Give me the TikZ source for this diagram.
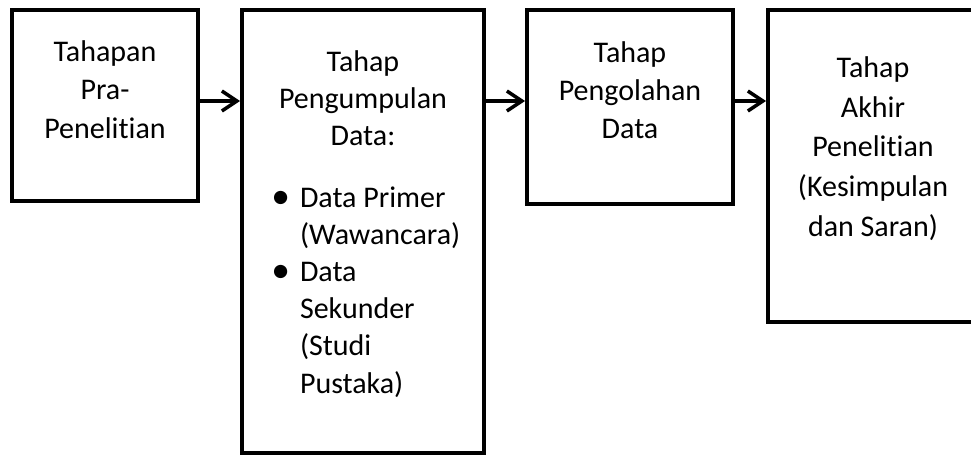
\documentclass[tikz,border=0pt]{standalone}
\usepackage{fontspec}
\setmainfont{Carlito}[Ligatures=NoCommon]
\usetikzlibrary{arrows.meta}
\tikzset{
  box/.style={draw, line width=4pt, inner sep=0pt},
  txt/.style={inner sep=0pt, anchor=base},
  conn/.style={line width=3.5pt, -{Straight Barb[length=15pt,width=20pt]}},
}
\newcommand{\bul}{\leavevmode\llap{\raisebox{-1pt}{\scalebox{1.25}{\textbullet}}\hspace{10pt}}}
\begin{document}
\begin{tikzpicture}[x=1pt, y=-1pt]
\useasboundingbox (0,0) rectangle (971,455);
% boxes
\node[box, minimum width=186pt, minimum height=191pt] (b1) at (105,105.5) {};
\node[box, minimum width=242pt, minimum height=443pt] (b2) at (363,231.5) {};
\node[box, minimum width=206pt, minimum height=194pt] (b3) at (630,107) {};
\node[box, minimum width=210pt, minimum height=312pt] (b4) at (873,166) {};
% texts
\node[txt, font=\fontsize{30}{38.3}\selectfont] (t1) at (105,61.5)
  {\parbox[t]{180pt}{\centering Tahapan\\Pra-\\Penelitian}};
\node[txt, font=\fontsize{30}{37.2}\selectfont] (t2) at (363,71)
  {\parbox[t]{230pt}{\centering Tahap\\Pengumpulan\\Data:}};
\node[txt, font=\fontsize{30}{37.2}\selectfont] (t2l) at (390,207)
  {\parbox[t]{180pt}{\raggedright\bul Data Primer\\(Wawancara)\\\bul Data\\Sekunder\\(Studi\\Pustaka)}};
\node[txt, font=\fontsize{30}{38.3}\selectfont] (t3) at (630,62)
  {\parbox[t]{200pt}{\centering Tahap\\Pengolahan\\Data}};
\node[txt, font=\fontsize{30}{39.7}\selectfont] (t4) at (873,77.5)
  {\parbox[t]{200pt}{\centering Tahap\\Akhir\\Penelitian\\(Kesimpulan\\dan Saran)}};
% connectors
\coordinate (ay) at (0,101);
\draw[conn] (b1.east |- ay) -- (b2.west |- ay);
\draw[conn] (b2.east |- ay) -- (b3.west |- ay);
\draw[conn] (b3.east |- ay) -- (b4.west |- ay);
\end{tikzpicture}
\end{document}
